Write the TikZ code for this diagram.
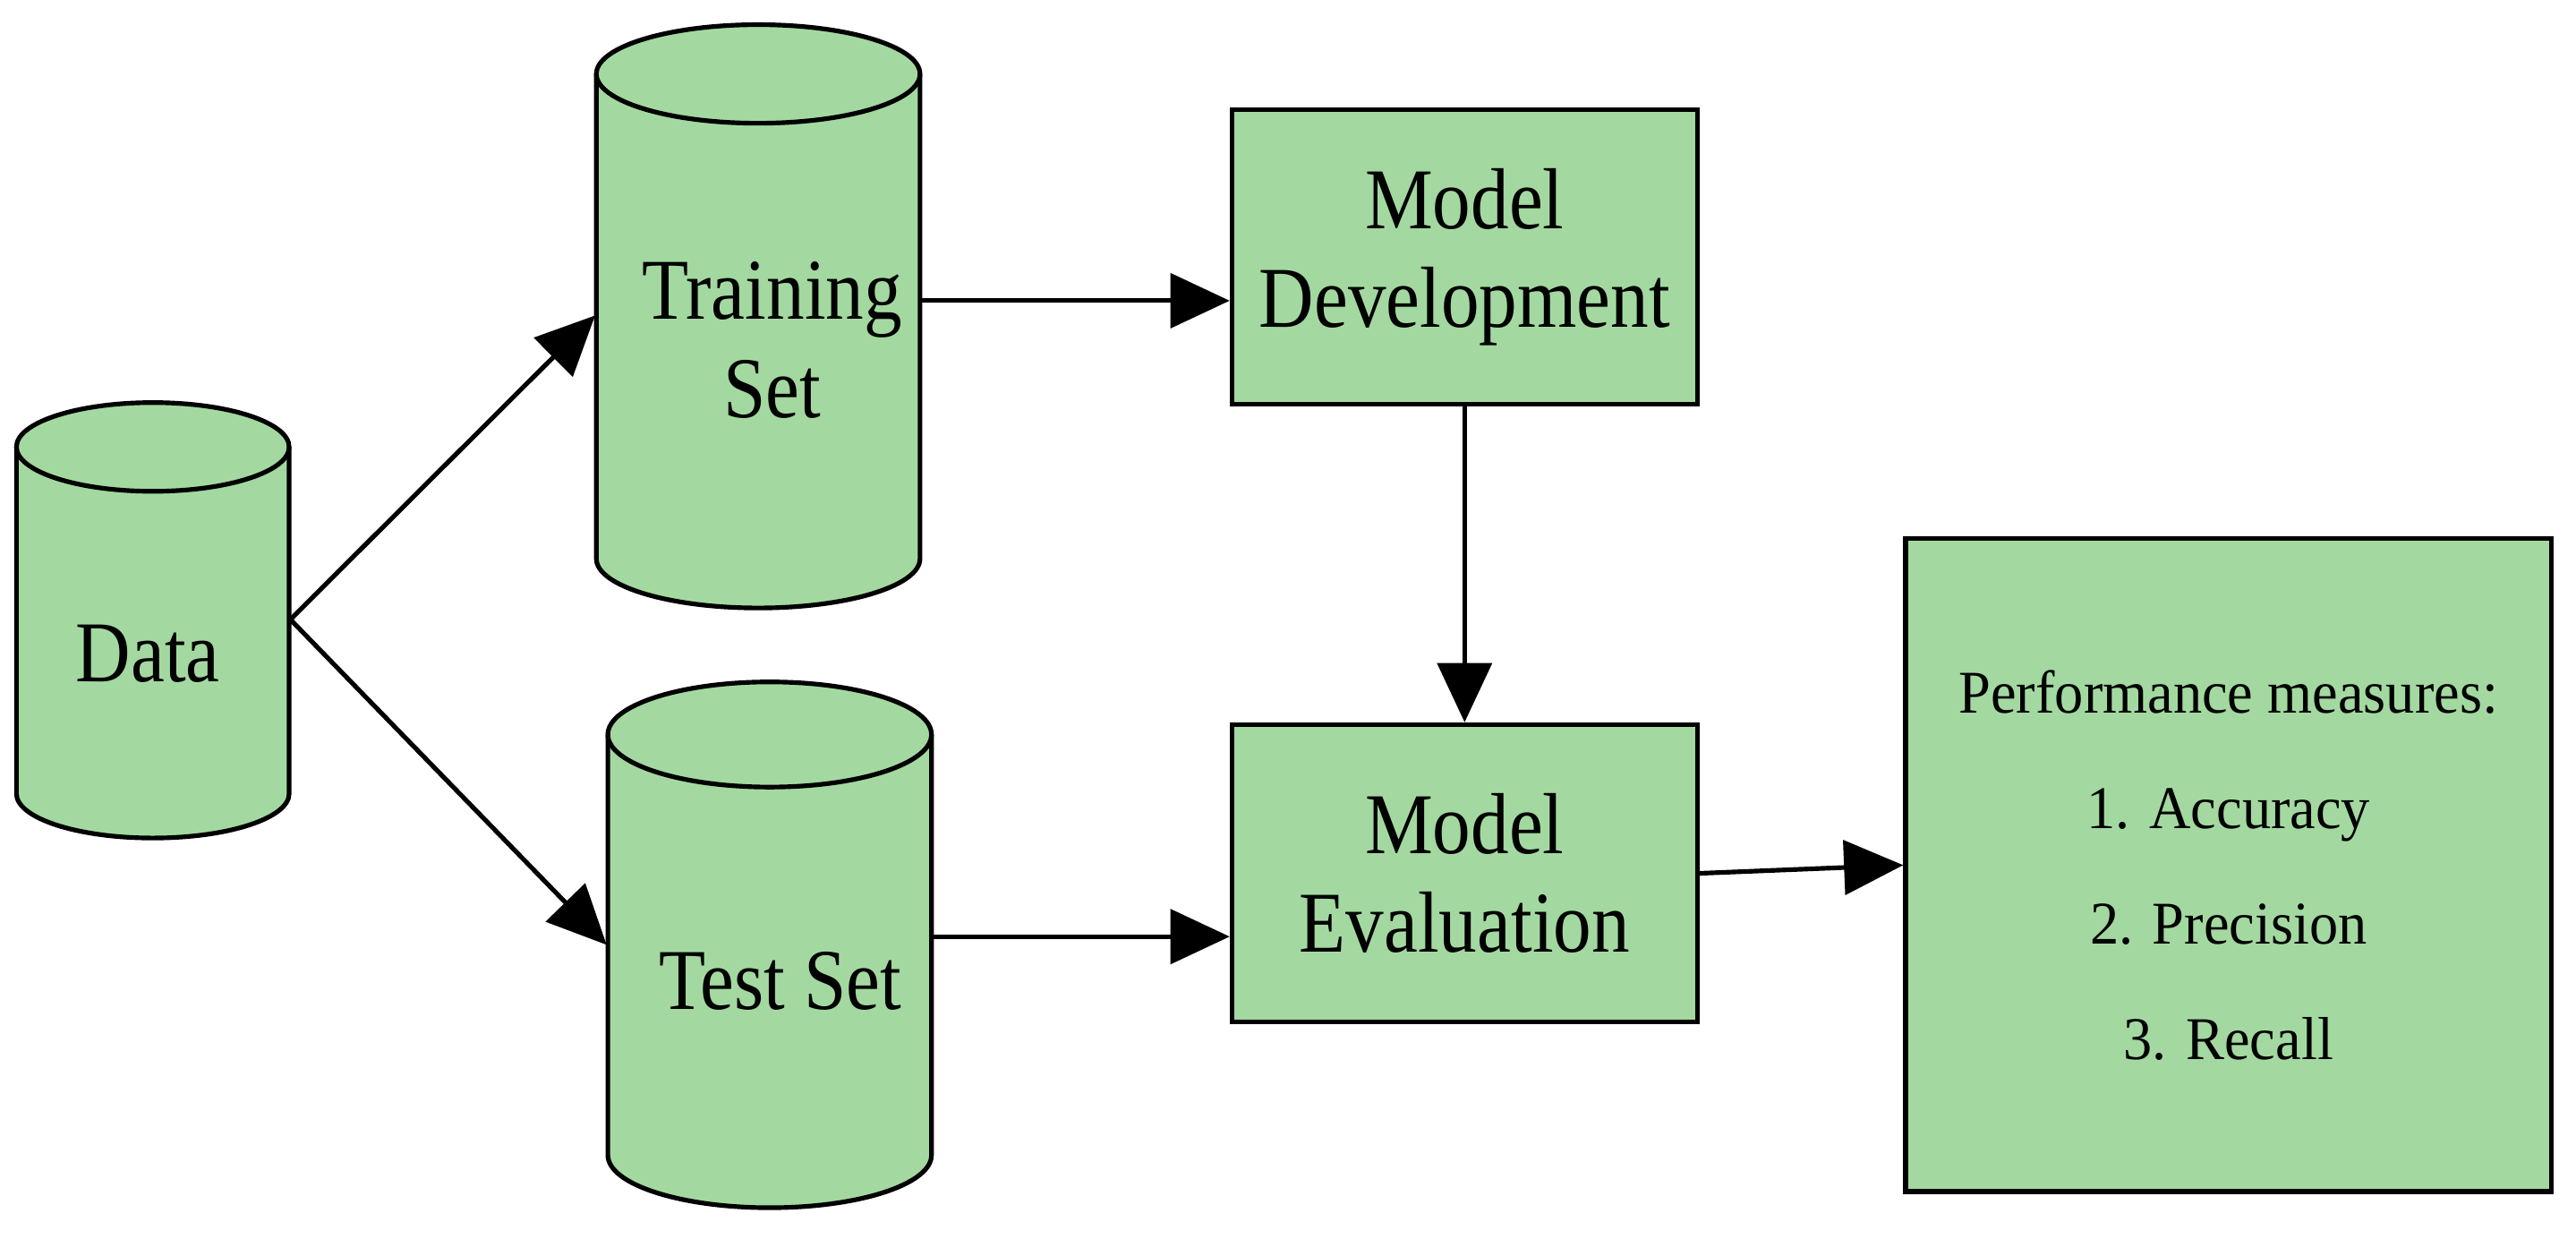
\documentclass[tikz,border=0pt]{standalone}
\usepackage{fontspec}
\setmainfont{Liberation Serif}
\usetikzlibrary{arrows.meta}
\definecolor{gfill}{HTML}{A3D9A0}
\begin{document}
\begin{tikzpicture}[x=0.01cm,y=-0.01cm,
  ln/.style={line width=0.8pt,black},
  box/.style={draw,ln,fill=gfill,rectangle,inner sep=0pt,align=center},
  hit/.style={rectangle,inner sep=0pt,draw=none},
  big/.style={font=\fontsize{15}{17}\selectfont},
  arr/.style={ln,-{Triangle[length=0.36cm,width=0.33cm]}}]
\newcommand{\bsq}[1]{\scalebox{0.88}[1]{#1}}
\newcommand{\ssq}[1]{\scalebox{0.95}[1]{#1}}
\useasboundingbox (0,0) rectangle (1568,754);
% cylinder: left, right, top centre y, bottom centre y, ry
\newcommand{\mycyl}[5]{%
  \pgfmathsetmacro{\rx}{(#2-#1)/2}\pgfmathsetmacro{\cx}{(#1+#2)/2}
  \fill[gfill] (#1,#3) -- (#1,#4) arc[start angle=180,end angle=360,x radius=\rx,y radius=-#5] -- (#2,#3) -- cycle;
  \fill[gfill] (\cx,#3) ellipse[x radius=\rx,y radius=#5];
  \draw[ln] (#1,#3) -- (#1,#4) arc[start angle=180,end angle=360,x radius=\rx,y radius=-#5] -- (#2,#3);
  \draw[ln] (\cx,#3) ellipse[x radius=\rx,y radius=#5];}
\mycyl{10}{176}{272}{483}{27}
\mycyl{363}{560}{45}{340}{30}
\mycyl{370}{567}{447}{703}{32}
\node[hit,minimum width=1.66cm,minimum height=2.65cm] (data) at (93,377) {};
\node[hit,minimum width=1.97cm,minimum height=3.55cm] (train) at (461.5,192) {};
\node[hit,minimum width=1.97cm,minimum height=3.2cm] (test) at (468.5,575) {};
\node[big] at (90,398) {\bsq{Data}};
\node[big,align=center] at (470,207) {\bsq{Training}\\\bsq{Set}};
\node[big] at (475,597) {\bsq{Test Set}};
\node[box,big,minimum width=2.83cm,minimum height=1.79cm] (md) at (891.5,156.5) {\bsq{Model}\\\bsq{Development}};
\node[box,big,minimum width=2.83cm,minimum height=1.81cm] (me) at (891.5,531.5) {\bsq{Model}\\\bsq{Evaluation}};
\node[box,minimum width=3.93cm,minimum height=3.97cm,font=\fontsize{10.5}{18}\selectfont] (pm) at (1356.5,526.5)
  {\ssq{Performance measures:}\\[2pt]\ssq{1. Accuracy}\\[2pt]\ssq{2. Precision}\\[2pt]\ssq{3. Recall}};
\draw[arr] (data.east) -- (train.west);
\draw[arr] (data.east) -- (test.west);
\draw[arr] (train.east |- 0,183) -- (md.west |- 0,183);
\draw[arr] (test.east |- 0,570) -- (me.west |- 0,570);
\draw[arr] (md.south) -- (me.north);
\draw[arr] (me.east) -- (pm.west);
\end{tikzpicture}
\end{document}
